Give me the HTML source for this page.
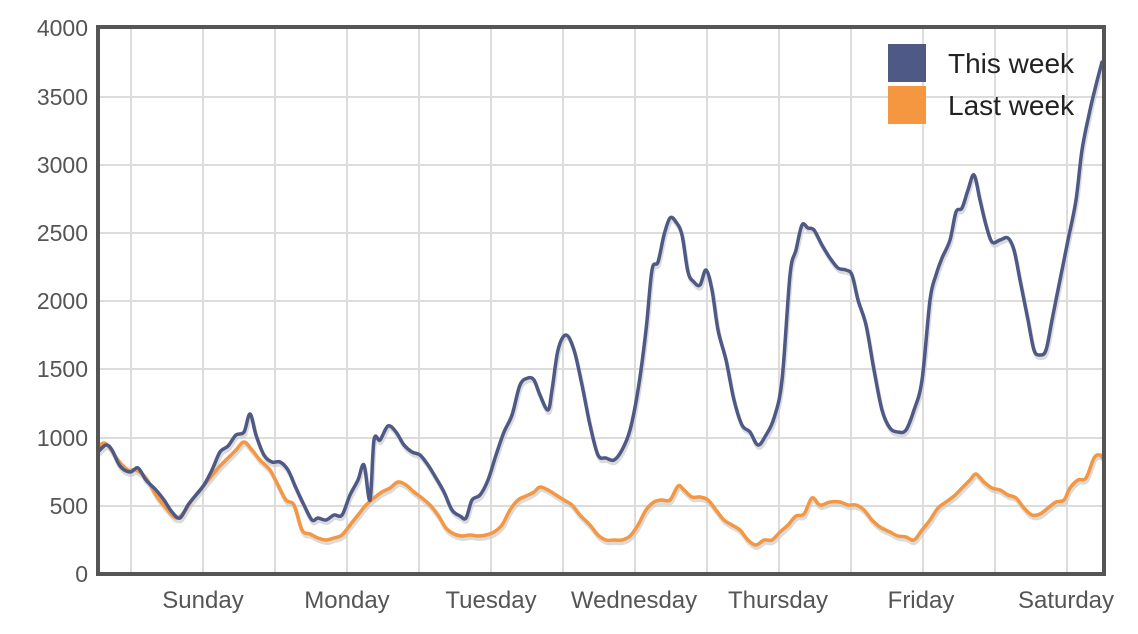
<!DOCTYPE html>
<html><head><meta charset="utf-8"><style>body{margin:0;background:#fff}svg{display:block}text{font-family:"Liberation Sans",sans-serif}</style></head><body>
<svg width="1138" height="634" xmlns="http://www.w3.org/2000/svg">
<g stroke="#dcdcdc" stroke-width="2">
<line x1="131" y1="27" x2="131" y2="574"/><line x1="203" y1="27" x2="203" y2="574"/><line x1="275" y1="27" x2="275" y2="574"/><line x1="347" y1="27" x2="347" y2="574"/><line x1="419" y1="27" x2="419" y2="574"/><line x1="491" y1="27" x2="491" y2="574"/><line x1="563" y1="27" x2="563" y2="574"/><line x1="635" y1="27" x2="635" y2="574"/><line x1="707" y1="27" x2="707" y2="574"/><line x1="779" y1="27" x2="779" y2="574"/><line x1="851" y1="27" x2="851" y2="574"/><line x1="923" y1="27" x2="923" y2="574"/><line x1="995" y1="27" x2="995" y2="574"/><line x1="1067" y1="27" x2="1067" y2="574"/>
<line x1="98" y1="97" x2="1104" y2="97"/><line x1="98" y1="165" x2="1104" y2="165"/><line x1="98" y1="233" x2="1104" y2="233"/><line x1="98" y1="301" x2="1104" y2="301"/><line x1="98" y1="369" x2="1104" y2="369"/><line x1="98" y1="438" x2="1104" y2="438"/><line x1="98" y1="506" x2="1104" y2="506"/>
</g>
<g font-size="23" fill="#555" text-anchor="end">
<text x="88" y="36">4000</text><text x="88" y="105">3500</text><text x="88" y="173">3000</text><text x="88" y="241">2500</text><text x="88" y="309">2000</text><text x="88" y="377">1500</text><text x="88" y="446">1000</text><text x="88" y="514">500</text><text x="88" y="582">0</text>
</g>
<g font-size="24" fill="#555" text-anchor="middle">
<text x="203" y="608">Sunday</text><text x="347" y="608">Monday</text><text x="491" y="608">Tuesday</text><text x="634" y="608">Wednesday</text><text x="778" y="608">Thursday</text><text x="921" y="608">Friday</text><text x="1066" y="608">Saturday</text>
</g>
<defs><clipPath id="c"><rect x="98" y="27" width="1006" height="547"/></clipPath></defs>
<g clip-path="url(#c)" fill="none" stroke-linejoin="round" stroke-linecap="round">
<g transform="translate(1,3)" stroke="#ccc" stroke-width="4" opacity="0.7">
<path id="o" data-p="98,447 104,443 110,448 118,460 128,470 136,470 146,478 156,495 166,508 176,518 184,512 192,500 200,490 210,478 220,466 228,458 236,450 244,442 252,450 260,460 270,470 278,485 286,500 294,505 302,530 310,534 318,538 326,540 334,538 342,535 350,525 358,515 366,505 374,498 382,492 390,488 398,482 406,485 414,492 422,498 430,505 438,515 446,528 454,534 462,536 470,535 478,536 486,535 494,532 502,525 510,510 518,500 526,496 534,492 540,487 548,490 556,495 564,500 572,505 580,515 590,525 598,535 606,540 614,540 622,540 630,536 638,525 646,510 654,502 662,500 670,500 678,486 684,490 692,497 700,497 708,500 716,510 724,520 732,525 740,530 748,540 756,545 764,540 772,540 780,532 788,525 796,516 804,514 812,498 820,505 830,502 840,502 848,505 856,505 864,510 872,520 880,527 890,532 898,536 906,537 914,540 922,530 930,520 938,508 946,502 954,496 962,488 970,480 976,474 984,482 992,488 1000,490 1008,495 1016,498 1024,508 1032,515 1040,514 1048,508 1056,502 1064,500 1070,488 1078,480 1086,478 1094,458 1100,455 1104,460"/>
<path id="b" data-p="98,452 106,445 112,450 120,466 130,472 138,468 146,480 156,490 164,500 172,512 180,518 188,505 196,495 204,485 212,470 220,452 228,446 236,435 244,432 250,414 256,435 264,455 272,462 280,462 288,470 296,488 304,505 312,520 318,518 326,520 334,515 342,515 350,495 358,480 364,465 370,500 374,440 380,440 388,426 396,432 404,445 412,452 420,455 428,465 436,478 444,492 452,510 460,516 466,518 472,500 480,495 488,480 496,455 504,432 512,415 520,385 528,378 534,380 540,395 548,410 552,390 558,350 566,335 574,350 582,385 590,425 598,455 606,458 614,460 622,450 630,430 638,390 646,330 652,270 658,262 664,235 670,218 676,222 682,235 688,272 694,282 700,285 706,270 712,290 718,330 726,360 734,400 742,425 750,432 758,445 766,435 774,418 782,380 790,275 796,250 802,225 808,228 814,230 822,245 830,258 838,268 846,270 852,275 858,300 866,325 874,370 882,410 890,428 898,432 906,430 914,410 922,380 930,300 936,275 942,258 950,240 956,212 962,208 968,190 974,175 980,200 986,225 992,242 1000,240 1008,238 1014,250 1020,280 1028,320 1034,350 1040,355 1046,350 1052,320 1060,280 1068,240 1076,200 1082,150 1090,110 1096,85 1102,62"/>
</g>
<use href="#o" stroke="#f59640" stroke-width="3.5"/>
<use href="#b" stroke="#4e5a85" stroke-width="3.5"/>
</g>
<rect x="98" y="27" width="1006" height="547" fill="none" stroke="#555" stroke-width="4"/>
<rect x="888" y="44" width="38" height="38" fill="#4e5a85"/>
<rect x="888" y="86" width="38" height="38" fill="#f59640"/>
<g font-size="28" fill="#222"><text x="948" y="73">This week</text><text x="948" y="115">Last week</text></g>
</svg>
<script>
document.querySelectorAll('path[data-p]').forEach(function(el){
var p=el.getAttribute('data-p').split(' ').map(function(s){return s.split(',').map(Number);});
var d='M'+p[0][0]+','+p[0][1];
for(var i=0;i<p.length-1;i++){
var p0=p[i-1]||p[i],p1=p[i],p2=p[i+1],p3=p[i+2]||p2;
var c1x=p1[0]+(p2[0]-p0[0])/6,c1y=p1[1]+(p2[1]-p0[1])/6;
var c2x=p2[0]-(p3[0]-p1[0])/6,c2y=p2[1]-(p3[1]-p1[1])/6;
d+=' C'+c1x.toFixed(1)+','+c1y.toFixed(1)+' '+c2x.toFixed(1)+','+c2y.toFixed(1)+' '+p2[0]+','+p2[1];
}
el.setAttribute('d',d);
});
</script>
</body></html>
